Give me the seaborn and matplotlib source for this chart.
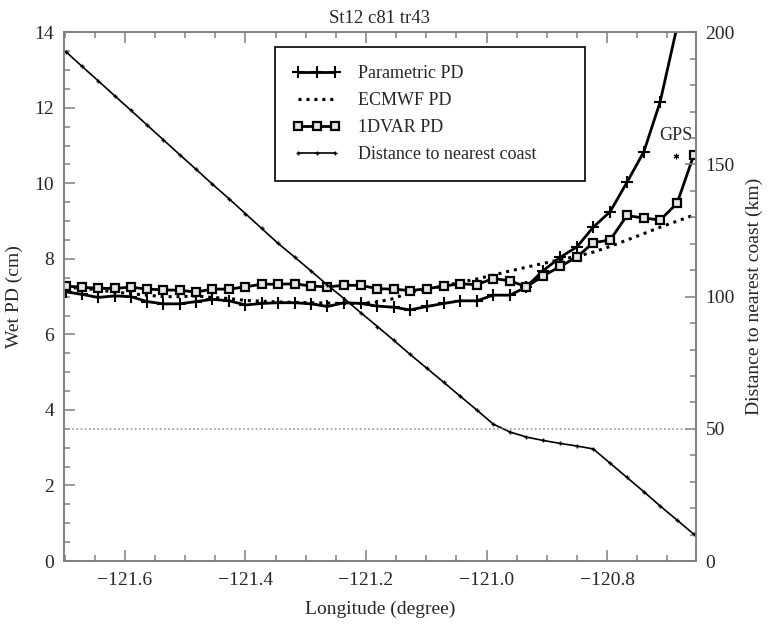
import matplotlib
matplotlib.use("Agg")
import matplotlib.pyplot as plt
from matplotlib.ticker import MultipleLocator
import seaborn as sns

# along-track longitude of each sample (degree)
longitude = [-121.698, -121.671, -121.644, -121.617, -121.590, -121.563, -121.536,
             -121.509, -121.482, -121.455, -121.427, -121.400, -121.373, -121.346,
             -121.318, -121.291, -121.264, -121.236, -121.209, -121.181, -121.154,
             -121.127, -121.099, -121.071, -121.044, -121.016, -120.989, -120.961,
             -120.934, -120.906, -120.878, -120.850, -120.823, -120.795, -120.767,
             -120.739, -120.712, -120.684, -120.656]

# wet path delay (cm)
parametric_pd = [7.13, 7.06, 6.98, 7.02, 7.00, 6.87, 6.81, 6.81, 6.87, 6.93,
                 6.89, 6.78, 6.82, 6.84, 6.84, 6.81, 6.74, 6.84, 6.82, 6.75,
                 6.72, 6.65, 6.74, 6.82, 6.89, 6.89, 7.04, 7.04, 7.26, 7.69,
                 8.04, 8.32, 8.84, 9.25, 10.03, 10.84, 12.16, 14.15, 16.5]
ecmwf_pd = [7.25, 7.22, 7.18, 7.12, 7.08, 7.04, 7.00, 7.00, 7.02, 6.98,
            6.95, 6.90, 6.88, 6.86, 6.85, 6.84, 6.83, 6.82, 6.82, 6.86,
            6.95, 7.12, 7.20, 7.28, 7.38, 7.47, 7.57, 7.68, 7.78, 7.88,
            7.98, 8.07, 8.18, 8.33, 8.50, 8.67, 8.84, 9.00, 9.16]
onedvar_pd = [7.28, 7.25, 7.22, 7.22, 7.25, 7.20, 7.18, 7.17, 7.12, 7.20,
              7.20, 7.26, 7.33, 7.33, 7.34, 7.28, 7.26, 7.30, 7.30, 7.21,
              7.20, 7.16, 7.21, 7.28, 7.34, 7.32, 7.48, 7.42, 7.26, 7.55,
              7.80, 8.05, 8.43, 8.50, 9.15, 9.08, 9.03, 9.47, 10.76]

# distance to nearest coast (km)
distance_km = [192.7, 187.1, 181.6, 176.0, 170.5, 164.9, 159.3, 153.7, 148.2, 142.6,
               137.0, 131.4, 125.8, 120.2, 114.9, 109.7, 104.4, 99.2, 94.0, 88.7,
               83.5, 78.2, 72.9, 67.6, 62.4, 57.1, 51.8, 48.8, 46.9, 45.6,
               44.5, 43.5, 42.4, 37.0, 31.6, 26.2, 20.8, 15.5, 10.1]

gps_lon = -120.686
gps_pd = 10.73
ref_level_km = 50

sns.set_theme(style="ticks")
plt.rcParams['font.family'] = ['Liberation Serif', 'DejaVu Serif']

fig = plt.figure(figsize=(7.68, 6.31), dpi=100)
ax = fig.add_axes([0.0833, 0.1109, 0.8226, 0.8379])
ax2 = ax.twinx()

sns.lineplot(x=longitude, y=parametric_pd, ax=ax, color='black', lw=2,
             marker='+', markersize=8, markeredgewidth=1.5,
             markeredgecolor='black', estimator=None, label='Parametric PD')
sns.lineplot(x=longitude, y=ecmwf_pd, ax=ax, color='black', lw=2.2,
             linestyle=(0, (1, 1.6)), estimator=None, label='ECMWF PD')
sns.lineplot(x=longitude, y=onedvar_pd, ax=ax, color='black', lw=2,
             marker='s', markersize=6, markerfacecolor='#e6e6e6',
             markeredgecolor='black', markeredgewidth=1.6, estimator=None,
             label='1DVAR PD')
ax.plot([gps_lon], [gps_pd], marker=(6, 2, 0), ms=4, mew=0.8, color='black',
        linestyle='none')
ax.text(gps_lon, gps_pd + 0.3, 'GPS', ha='center', va='bottom', fontsize=13)

sns.lineplot(x=longitude, y=distance_km, ax=ax2, color='black', lw=1.2,
             marker='+', markersize=3.5, markeredgewidth=1,
             markeredgecolor='black', estimator=None,
             label='Distance to nearest coast')
ax2.axhline(ref_level_km, color='#999999', lw=1.2, linestyle=(0, (1, 1.5)))

for a in (ax, ax2):
    if a.get_legend() is not None:
        a.get_legend().remove()

ax.set_xlim(-121.701, -120.653)
ax.set_ylim(0, 14)
ax2.set_ylim(0, 200)

ax.xaxis.set_major_locator(MultipleLocator(0.2))
ax.xaxis.set_minor_locator(MultipleLocator(0.05))
ax.yaxis.set_major_locator(MultipleLocator(2))
ax.yaxis.set_minor_locator(MultipleLocator(0.5))
ax2.yaxis.set_major_locator(MultipleLocator(50))
ax2.yaxis.set_minor_locator(MultipleLocator(10))

spine_col = '#808080'
for a in (ax, ax2):
    for s in a.spines.values():
        s.set_color(spine_col)
        s.set_linewidth(1.2)
ax.tick_params(axis='x', which='both', direction='in', top=True, bottom=True,
               color=spine_col, labelsize=14, pad=8)
ax.tick_params(axis='y', which='both', direction='in', left=True, right=False,
               color=spine_col, labelsize=14, pad=7)
ax2.tick_params(axis='y', which='both', direction='in', right=True,
                color=spine_col, labelsize=14, pad=7)
for a, ax_name in ((ax, 'x'), (ax, 'y'), (ax2, 'y')):
    a.tick_params(axis=ax_name, which='major', length=8, width=1.1)
    a.tick_params(axis=ax_name, which='minor', length=4, width=1.1)

ax.set_xlabel('Longitude (degree)', fontsize=14, labelpad=8)
ax.set_ylabel('Wet PD (cm)', fontsize=14, labelpad=8)
ax2.set_ylabel('Distance to nearest coast (km)', fontsize=14, labelpad=8)
ax.set_title('St12 c81 tr43', fontsize=13.5, pad=7)

handles = ax.get_lines()[:3] + [ax2.get_lines()[0]]
labels = ['Parametric PD', 'ECMWF PD', '1DVAR PD', 'Distance to nearest coast']
leg = ax2.legend(handles, labels, loc='upper left',
                 bbox_to_anchor=(0.334, 0.972, 0.491, 0.0), mode='expand',
                 borderaxespad=0, frameon=True, fancybox=False,
                 edgecolor='black', framealpha=1, borderpad=1.0,
                 labelspacing=0.55, handlelength=2.6, handletextpad=1.0,
                 numpoints=3, fontsize=13)
leg.get_frame().set_linewidth(1.2)

fig.savefig('out.png', dpi=100)
